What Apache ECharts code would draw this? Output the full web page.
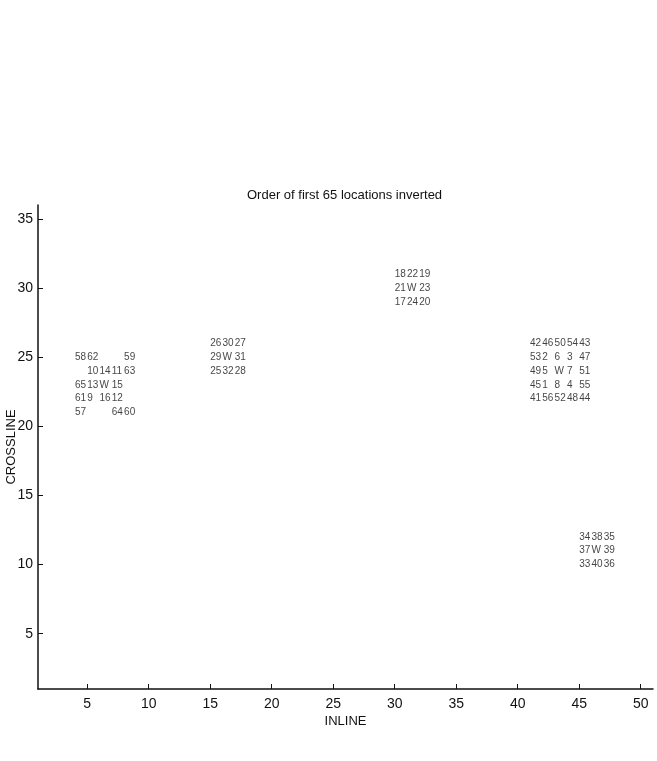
<!DOCTYPE html>
<html>
<head>
<meta charset="utf-8">
<script src="https://cdn.jsdelivr.net/npm/echarts@6/dist/echarts.min.js"></script>
<style>
  html, body { margin: 0; padding: 0; background: #fff; }
  #chart { width: 657px; height: 761px; }
</style>
</head>
<body>
<div id="chart"></div>
<script>
// order in which each location was inverted, with its grid position
const orderLabels = [
  '58', '62', '59', '10', '14', '11', '63', '65', '13', '15', '61', '9', '16', '12', '57', '64', '60',
  '26', '30', '27', '29', '31', '25', '32', '28',
  '18', '22', '19', '21', '23', '17', '24', '20',
  '42', '46', '50', '54', '43', '53', '2', '6', '3', '47', '49', '5', '7', '51',
  '45', '1', '8', '4', '55', '41', '56', '52', '48', '44',
  '34', '38', '35', '37', '39', '33', '40', '36'
]
const orderInline = [
  4, 5, 8, 5, 6, 7, 8, 4, 5, 7, 4, 5, 6, 7, 4, 7, 8,
  15, 16, 17, 15, 17, 15, 16, 17,
  30, 31, 32, 30, 32, 30, 31, 32,
  41, 42, 43, 44, 45, 41, 42, 43, 44, 45, 41, 42, 44, 45,
  41, 42, 43, 44, 45, 41, 42, 43, 44, 45,
  45, 46, 47, 45, 47, 45, 46, 47
]
const orderCrossline = [
  25, 25, 25, 24, 24, 24, 24, 23, 23, 23, 22, 22, 22, 22, 21, 21, 21,
  26, 26, 26, 25, 25, 24, 24, 24,
  31, 31, 31, 30, 30, 29, 29, 29,
  26, 26, 26, 26, 26, 25, 25, 25, 25, 25, 24, 24, 24, 24,
  23, 23, 23, 23, 23, 22, 22, 22, 22, 22,
  12, 12, 12, 11, 11, 10, 10, 10
]
// wells
const wellInline = [6, 16, 31, 43, 46]
const wellCrossline = [23, 25, 30, 24, 11]

const xTicks = [5, 10, 15, 20, 25, 30, 35, 40, 45, 50]
const yTicks = [5, 10, 15, 20, 25, 30, 35]

const textFont = 'Liberation Sans, Arial, Helvetica, sans-serif'

const orderData = orderLabels.map((name, i) => ({
  name,
  value: [orderInline[i], orderCrossline[i]]
}))
const wellData = wellInline.map((x, i) => ({
  name: 'W',
  value: [x, wellCrossline[i]]
}))

const pointLabel = {
  show: true,
  position: 'right',
  distance: 0,
  align: 'left',
  verticalAlign: 'middle',
  formatter: p => p.name,
  color: '#111',
  fontSize: 10,
  fontFamily: textFont
}

const chart = echarts.init(document.getElementById('chart'))
chart.setOption({
  animation: false,
  title: {
    text: 'Order of first 65 locations inverted',
    left: 242,
    top: 184,
    textStyle: {
      color: '#111',
      fontSize: 13,
      fontWeight: 'normal',
      fontFamily: textFont
    }
  },
  grid: {
    left: 38,
    right: 4,
    top: 205,
    bottom: 72,
    containLabel: false,
    outerBoundsMode: 'none'
  },
  xAxis: {
    type: 'value',
    min: 1,
    max: 51,
    name: 'INLINE',
    nameLocation: 'middle',
    nameGap: 26,
    nameMoveOverlap: false,
    nameTextStyle: { color: '#111', fontSize: 13, fontFamily: textFont },
    axisLine: { lineStyle: { color: '#111', width: 1.5 } },
    axisTick: { show: true, inside: true, length: 5, customValues: xTicks, lineStyle: { color: '#111' } },
    axisLabel: { customValues: xTicks, color: '#111', fontSize: 14, margin: 8, fontFamily: textFont },
    splitLine: { show: false }
  },
  yAxis: {
    type: 'value',
    min: 1,
    max: 36,
    name: 'CROSSLINE',
    nameLocation: 'middle',
    nameGap: 20,
    nameMoveOverlap: false,
    nameTextStyle: { color: '#111', fontSize: 13, fontFamily: textFont },
    axisLine: { show: true, lineStyle: { color: '#111', width: 1.5 } },
    axisTick: { show: true, inside: true, length: 5, customValues: yTicks, lineStyle: { color: '#111' } },
    axisLabel: { customValues: yTicks, color: '#111', fontSize: 14, margin: 5, fontFamily: textFont },
    splitLine: { show: false }
  },
  series: [
    {
      type: 'scatter',
      name: 'order',
      symbolSize: 0,
      data: orderData,
      label: pointLabel
    },
    {
      type: 'scatter',
      name: 'well',
      symbolSize: 0,
      data: wellData,
      label: pointLabel
    }
  ]
})
</script>
</body>
</html>
